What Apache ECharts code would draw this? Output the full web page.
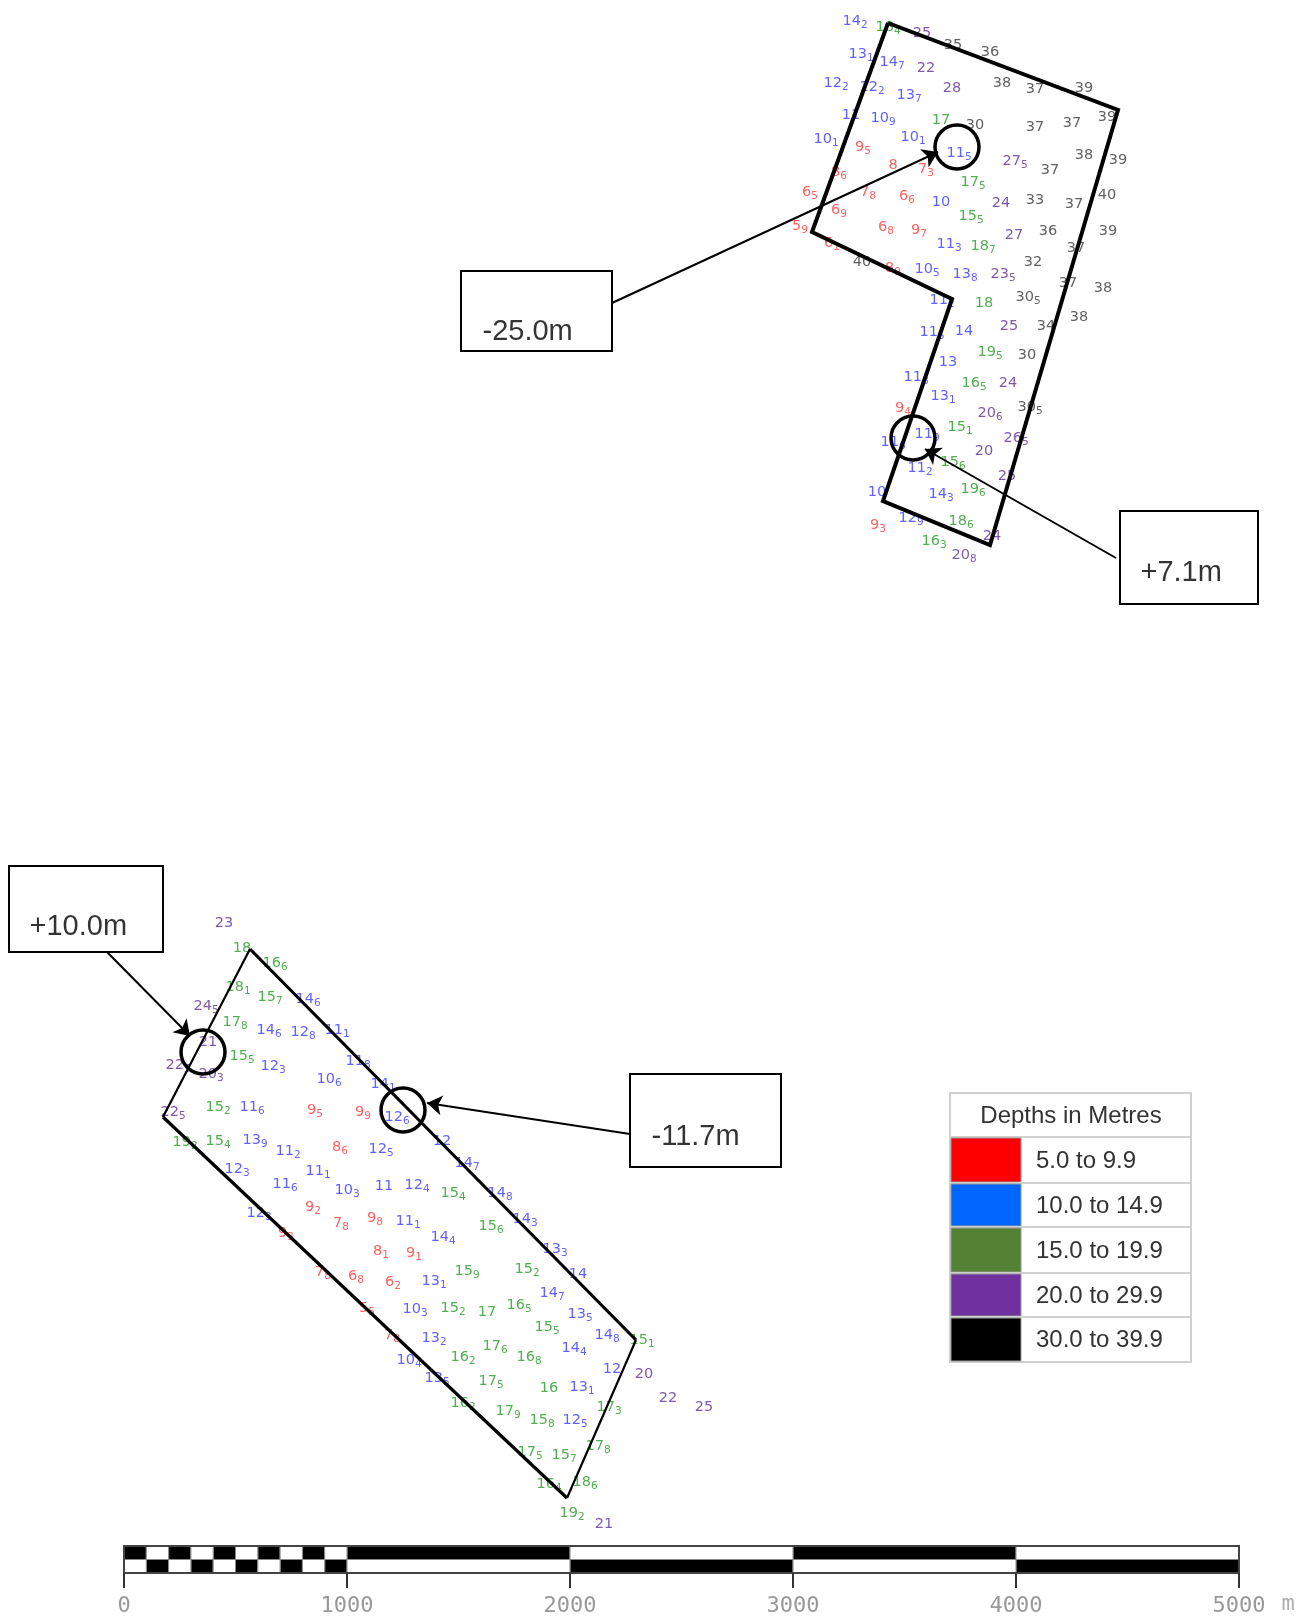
<!DOCTYPE html>
<html>
<head>
<meta charset="utf-8">
<style>html,body{margin:0;padding:0;background:#fff}#c{width:1298px;height:1617px;filter:blur(0.45px)}</style>
<script src="https://cdn.jsdelivr.net/npm/echarts@6/dist/echarts.min.js"></script>
</head>
<body>
<div id="c"></div>
<script>
// Soundings: [map x, map y, whole metres, tenths subscript]
const depth5to10 = [
[863,147,'9','5'],[893,165,'8',''],[926,169,'7','3'],[839,172,'8','6'],[810,192,'6','5'],[868,192,'7','8'],
[907,196,'6','6'],[839,210,'6','9'],[800,226,'5','9'],[886,227,'6','8'],[919,230,'9','7'],[832,243,'6','1'],
[893,268,'8','9'],[903,408,'9','4'],[878,525,'9','3'],
[315,1110,'9','5'],[363,1112,'9','9'],[340,1147,'8','6'],[313,1207,'9','2'],[341,1223,'7','8'],[375,1218,'9','8'],
[286,1233,'9','3'],[381,1251,'8','1'],[414,1253,'9','1'],[323,1272,'7','8'],[356,1276,'6','8'],[393,1282,'6','2'],
[367,1308,'5','5'],[392,1335,'7','8']
];
const depth10to15 = [
[855,21,'14','2'],[861,54,'13','1'],[892,62,'14','7'],[836,83,'12','2'],[872,87,'12','2'],[909,95,'13','7'],
[851,115,'11',''],[883,118,'10','9'],[826,139,'10','1'],[913,137,'10','1'],[959,153,'11','5'],[941,202,'10',''],
[949,244,'11','3'],[927,269,'10','5'],[965,274,'13','8'],[942,300,'11','2'],[932,332,'11','5'],[964,331,'14',''],
[948,362,'13',''],[916,377,'11','8'],[943,396,'13','1'],[927,434,'11','9'],[893,442,'11','6'],[920,468,'11','2'],
[941,494,'14','3'],[877,492,'10',''],[911,518,'12','9'],
[308,999,'14','6'],[269,1030,'14','6'],[303,1032,'12','8'],[337,1030,'11','1'],[358,1061,'11','8'],[273,1066,'12','3'],
[329,1079,'10','6'],[383,1084,'14','1'],[252,1107,'11','6'],[397,1117,'12','6'],[255,1140,'13','9'],[288,1151,'11','2'],
[381,1149,'12','5'],[442,1141,'12',''],[467,1163,'14','7'],[237,1169,'12','3'],[318,1171,'11','1'],[285,1184,'11','6'],
[347,1190,'10','3'],[384,1186,'11',''],[417,1185,'12','4'],[500,1193,'14','8'],[259,1213,'12','3'],[408,1221,'11','1'],
[443,1237,'14','4'],[525,1219,'14','3'],[555,1249,'13','3'],[578,1274,'14',''],[434,1281,'13','1'],[552,1293,'14','7'],
[415,1309,'10','3'],[580,1314,'13','5'],[607,1335,'14','8'],[434,1338,'13','2'],[574,1348,'14','4'],[409,1360,'10','4'],
[612,1369,'12',''],[437,1378,'13','5'],[582,1387,'13','1'],[575,1420,'12','5']
];
const depth15to20 = [
[888,27,'18','4'],[941,120,'17',''],[973,182,'17','5'],[971,216,'15','5'],[983,246,'18','7'],[984,303,'18',''],
[990,352,'19','5'],[974,383,'16','5'],[960,427,'15','1'],[953,462,'15','6'],[973,489,'19','6'],[961,521,'18','6'],[934,541,'16','3'],
[242,948,'18',''],[275,963,'16','6'],[238,987,'18','1'],[270,997,'15','7'],[235,1022,'17','8'],[242,1056,'15','5'],
[218,1107,'15','2'],[185,1142,'19','2'],[218,1141,'15','4'],[453,1193,'15','4'],[491,1226,'15','6'],[467,1271,'15','9'],
[527,1269,'15','2'],[453,1308,'15','2'],[487,1312,'17',''],[519,1305,'16','5'],[547,1327,'15','5'],[642,1340,'15','1'],
[495,1346,'17','6'],[463,1357,'16','2'],[529,1357,'16','8'],[491,1381,'17','5'],[549,1388,'16',''],[463,1403,'16','2'],
[508,1411,'17','9'],[542,1420,'15','8'],[609,1407,'17','3'],[598,1446,'17','8'],[530,1452,'17','5'],[564,1455,'15','7'],
[549,1484,'16','4'],[585,1482,'18','6'],[572,1513,'19','2']
];
const depth20to30 = [
[922,33,'25',''],[926,68,'22',''],[952,88,'28',''],[1015,161,'27','5'],[1001,203,'24',''],[1014,235,'27',''],[1003,274,'23','5'],
[1009,326,'25',''],[1008,383,'24',''],[990,413,'20','6'],[984,451,'20',''],[1016,438,'26','5'],[1007,476,'25',''],[992,536,'24',''],[964,555,'20','8'],
[224,923,'23',''],[206,1006,'24','5'],[208,1042,'21',''],[178,1065,'22','5'],[211,1074,'20','3'],[173,1112,'22','5'],
[644,1374,'20',''],[668,1398,'22',''],[704,1407,'25',''],[604,1524,'21','']
];
const depth30to40 = [
[953,45,'35',''],[990,52,'36',''],[1002,83,'38',''],[1035,89,'37',''],[1084,88,'39',''],[1107,117,'39',''],[975,125,'30',''],
[1035,127,'37',''],[1072,123,'37',''],[1084,155,'38',''],[1118,160,'39',''],[1050,170,'37',''],[1107,195,'40',''],[1035,200,'33',''],
[1074,204,'37',''],[1048,231,'36',''],[1108,231,'39',''],[1076,248,'37',''],[1033,262,'32',''],[862,262,'40',''],[1068,283,'37',''],
[1103,288,'38',''],[1028,297,'30','5'],[1046,326,'34',''],[1079,317,'38',''],[1027,355,'30',''],[1030,407,'30','5']
];
const areaOutlineNorth = [[888,23],[1118,110],[990,545],[883,501],[952,299],[812,232],[888,23]];
const areaLongEdgeA = [[250,949],[636,1340]];
const areaLongEdgeB = [[567,1498],[163,1117]];
const areaShortEdgeA = [[636,1340],[567,1498]];
const areaShortEdgeB = [[163,1117],[250,949]];
const calloutTexts = ['-25.0m','+7.1m','+10.0m','-11.7m'];
const calloutBoxes = [[461,271,612,351],[1120,511,1258,604],[9,866,163,952],[630,1074,781,1167]];
const calloutTextAnchors = [[482,332],[1140,573],[29,927],[651,1137]];
const calloutArrows = [[[612,303],[938,152]],[[1116,558],[925,449]],[[107,952],[190,1036]],[[630,1134],[427,1103]]];
const calloutRings = [[957,147],[913,438],[203,1052],[403,1110]];
const legendTitle = 'Depths in Metres';
const legendLabels = ['5.0 to 9.9','10.0 to 14.9','15.0 to 19.9','20.0 to 29.9','30.0 to 39.9'];
const legendSwatches = ['#ff0000','#0066ff','#548235','#7030a0','#000000'];
const scaleTicks = [0,1000,2000,3000,4000,5000];
const scaleUnit = 'm';
const scaleTopBlack = [[0,100],[200,300],[400,500],[600,700],[800,900],[1000,2000],[3000,4000]];
const scaleTopWhite = [[100,200],[300,400],[500,600],[700,800],[900,1000],[2000,3000],[4000,5000]];

const soundingColors = ['#ff3a3a','#3a3aff','#259a25','#5e2f96','#383838'];
const depthSets = [depth5to10,depth10to15,depth15to20,depth20to30,depth30to40];

const soundingSeries = depthSets.map((set,i)=>({
  type:'scatter', name:legendLabels[i], xAxisIndex:0, yAxisIndex:0, z:2, silent:true,
  symbolSize:1, itemStyle:{color:'transparent'},
  data:set,
  label:{
    show:true, position:'inside', align:'center', verticalAlign:'middle',
    formatter:p=>'{n|'+p.value[2]+'}'+(p.value[3]?'{s|'+p.value[3]+'}':''),
    rich:{
      n:{fontFamily:'DejaVu Sans',fontSize:14.5,color:soundingColors[i],lineHeight:22,height:22,verticalAlign:'middle'},
      s:{fontFamily:'DejaVu Sans',fontSize:10.5,color:soundingColors[i],lineHeight:14,height:14,verticalAlign:'bottom'}
    }
  }
}));
const outline = (data,w)=>({type:'line',xAxisIndex:0,yAxisIndex:0,z:6,silent:true,symbol:'none',data,
  lineStyle:{color:'#000',width:w,join:'miter'}});
const rowY = [1137,1183,1227,1273,1317,1362];
const legendX = [950,1021,1191], legendTop = 1093;
const legendGraphic = [];
legendGraphic.push({type:'rect',shape:{x:legendX[0],y:legendTop,width:legendX[2]-legendX[0],height:rowY[5]-legendTop},style:{fill:'#fff',stroke:'#d0d0d0',lineWidth:2}});
legendGraphic.push({type:'text',style:{x:1071,y:1116,text:legendTitle,fontFamily:'Liberation Sans',fontSize:24,fill:'#333',align:'center',verticalAlign:'middle'}});
legendLabels.forEach((t,i)=>{
  legendGraphic.push({type:'rect',shape:{x:legendX[0],y:rowY[i],width:legendX[2]-legendX[0],height:rowY[i+1]-rowY[i]},style:{fill:'#fff',stroke:'#d0d0d0',lineWidth:2}});
  legendGraphic.push({type:'rect',shape:{x:legendX[0]+1,y:rowY[i]+1,width:legendX[1]-legendX[0]-1,height:rowY[i+1]-rowY[i]-2},style:{fill:legendSwatches[i],stroke:'#999',lineWidth:1}});
  legendGraphic.push({type:'text',style:{x:1036,y:(rowY[i]+rowY[i+1])/2+1,text:t,fontFamily:'Liberation Sans',fontSize:24,fill:'#333',align:'left',verticalAlign:'middle'}});
});

const scaleCells = [
  ...scaleTopBlack.map(c=>[c[0],c[1],1,1]),
  ...scaleTopWhite.map(c=>[c[0],c[1],1,0]),
  ...scaleTopWhite.map(c=>[c[0],c[1],0,1]),
  ...scaleTopBlack.map(c=>[c[0],c[1],0,0])
];
const option = {
  animation:false, backgroundColor:'#fff',
  grid:[
    {left:0,top:0,width:1298,height:1617},
    {left:124,top:1546,width:1115,height:31,show:true,borderColor:'#444',borderWidth:2,z:5}
  ],
  xAxis:[
    {type:'value',gridIndex:0,min:0,max:1298,show:false},
    {type:'value',gridIndex:1,min:0,max:5000,interval:1000,splitLine:{show:false},z:5,
     axisLine:{show:true,onZero:false,lineStyle:{color:'#444',width:2}},
     axisTick:{show:true,length:15,lineStyle:{color:'#333',width:2}},
     axisLabel:{margin:22,fontFamily:'DejaVu Sans Mono',fontSize:22,color:'#999',showMinLabel:true,showMaxLabel:true,
       customValues:scaleTicks,formatter:v=>String(v)}}
  ],
  yAxis:[
    {type:'value',gridIndex:0,min:0,max:1617,inverse:true,show:false},
    {type:'value',gridIndex:1,min:0,max:2,show:false}
  ],
  graphic:{elements:legendGraphic.map(g=>Object.assign({silent:true,z:10},g))},
  series:[
    ...soundingSeries,
    outline(areaOutlineNorth,4),
    outline(areaLongEdgeA,3.2), outline(areaLongEdgeB,3.2),
    outline(areaShortEdgeA,2.2), outline(areaShortEdgeB,2.2),
    {type:'scatter',xAxisIndex:0,yAxisIndex:0,z:7,silent:true,data:calloutRings,symbol:'circle',symbolSize:44,
     itemStyle:{color:'rgba(0,0,0,0)',borderColor:'#000',borderWidth:3.5,opacity:1}},
    {type:'lines',coordinateSystem:'cartesian2d',xAxisIndex:0,yAxisIndex:0,z:8,silent:true,
     symbol:['none','arrow'],symbolSize:15,
     lineStyle:{color:'#000',width:2,opacity:1,curveness:0},
     data:calloutArrows.map(a=>({coords:a}))},
    {type:'custom',xAxisIndex:0,yAxisIndex:0,z:8,silent:true,data:calloutBoxes,
     renderItem:(params,api)=>{
       const a=api.coord([api.value(0),api.value(1)]), b=api.coord([api.value(2),api.value(3)]);
       return {type:'rect',shape:{x:a[0],y:a[1],width:b[0]-a[0],height:b[1]-a[1]},style:{fill:'#fff',stroke:'#000',lineWidth:2}};
     }},
    {type:'scatter',xAxisIndex:0,yAxisIndex:0,z:9,silent:true,symbolSize:1,itemStyle:{color:'transparent'},
     data:calloutTextAnchors.map((p,i)=>({value:p,name:calloutTexts[i]})),
     label:{show:true,position:'right',distance:0,formatter:p=>p.name,fontFamily:'Liberation Sans',fontSize:29,color:'#000'}},
    {type:'custom',xAxisIndex:1,yAxisIndex:1,z:1,silent:true,data:scaleCells,
     renderItem:(params,api)=>{
       const a=api.coord([api.value(0),api.value(2)+1]), b=api.coord([api.value(1),api.value(2)]);
       return {type:'rect',shape:{x:a[0],y:a[1],width:b[0]-a[0],height:b[1]-a[1]},
         style:{fill:api.value(3)?'#000':'#fff',stroke:'#888',lineWidth:1}};
     }},
    {type:'scatter',xAxisIndex:1,yAxisIndex:1,z:4,silent:true,symbolSize:1,itemStyle:{color:'transparent'},
     clip:false,data:[{value:[5000,0],name:scaleUnit}],
     label:{show:true,position:'right',distance:0,offset:[42,31],formatter:p=>p.name,
       fontFamily:'DejaVu Sans Mono',fontSize:22,color:'#999'}}
  ]
};
const chart = echarts.init(document.getElementById('c'),null,{renderer:'canvas',width:1298,height:1617});
chart.setOption(option);
</script>
</body>
</html>
